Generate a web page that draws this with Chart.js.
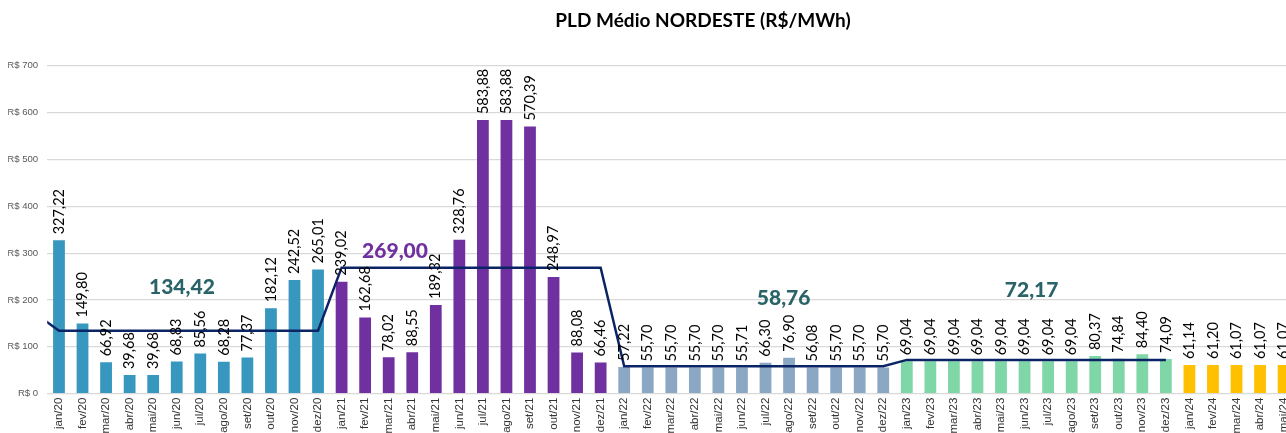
<!DOCTYPE html>
<html>
<head>
<meta charset="utf-8">
<script src="https://cdn.jsdelivr.net/npm/chart.js@4.4.0/dist/chart.umd.min.js"></script>
<style>
  html, body { margin: 0; padding: 0; background: #fff; }
  #quadro { width: 1286px; height: 433px; overflow: hidden; position: relative; }
  #grafico { position: absolute; left: 0; top: 0; }
</style>
</head>
<body>
<div id="quadro">
  <canvas id="grafico" width="1306" height="446"></canvas>
</div>
<script>
// meses exibidos no eixo
var meses = [
  "jan/20", "fev/20", "mar/20", "abr/20", "mai/20", "jun/20", "jul/20", "ago/20", "set/20", "out/20", "nov/20", "dez/20",
  "jan/21", "fev/21", "mar/21", "abr/21", "mai/21", "jun/21", "jul/21", "ago/21", "set/21", "out/21", "nov/21", "dez/21",
  "jan/22", "fev/22", "mar/22", "abr/22", "mai/22", "jun/22", "jul/22", "ago/22", "set/22", "out/22", "nov/22", "dez/22",
  "jan/23", "fev/23", "mar/23", "abr/23", "mai/23", "jun/23", "jul/23", "ago/23", "set/23", "out/23", "nov/23", "dez/23",
  "jan/24", "fev/24", "mar/24", "abr/24", "mai/24"
];

// PLD medio mensal (R$/MWh)
var pldMensal = [
  327.22, 149.80, 66.92, 39.68, 39.68, 68.83, 85.56, 68.28, 77.37, 182.12, 242.52, 265.01,
  239.02, 162.68, 78.02, 88.55, 189.32, 328.76, 583.88, 583.88, 570.39, 248.97, 88.08, 66.46,
  57.22, 55.70, 55.70, 55.70, 55.70, 55.71, 66.30, 76.90, 56.08, 55.70, 55.70, 55.70,
  69.04, 69.04, 69.04, 69.04, 69.04, 69.04, 69.04, 69.04, 80.37, 74.84, 84.40, 74.09,
  61.14, 61.20, 61.07, 61.07, 61.07
];

// media anual (linha); primeiro valor = dez/19, fora da area visivel
var mediaAnual = [
  171,
  134.42, 134.42, 134.42, 134.42, 134.42, 134.42, 134.42, 134.42, 134.42, 134.42, 134.42, 134.42,
  269.00, 269.00, 269.00, 269.00, 269.00, 269.00, 269.00, 269.00, 269.00, 269.00, 269.00, 269.00,
  58.76, 58.76, 58.76, 58.76, 58.76, 58.76, 58.76, 58.76, 58.76, 58.76, 58.76, 58.76,
  72.17, 72.17, 72.17, 72.17, 72.17, 72.17, 72.17, 72.17, 72.17, 72.17, 72.17, 72.17,
  null, null, null, null, null
];

var ticksY = [0, 100, 200, 300, 400, 500, 600, 700];

var rotulosMedia = ["134,42", "269,00", "58,76", "72,17"];
var posicaoMedia = [[5.22, 228], [14.27, 305], [30.77, 204], [41.3, 220]];
var corMedia = ["#2b6468", "#7030a0", "#2b6468", "#2b6468"];

var coresAno = { "20": "#3797bf", "21": "#7030a0", "22": "#8aa8c3", "23": "#7fd6a6", "24": "#ffc000" };

function formatar(v) {
  return v.toFixed(2).replace(".", ",");
}

// titulo centrado como no original
var titulo = {
  id: "titulo",
  afterDraw: function (chart) {
    var ctx = chart.ctx;
    ctx.save();
    ctx.font = "bold 19px Lato";
    ctx.fillStyle = "#000";
    ctx.textAlign = "center";
    ctx.textBaseline = "middle";
    ctx.fillText("PLD Médio NORDESTE (R$/MWh)", 703, 21);
    ctx.restore();
  }
};

// rotulos verticais sobre as barras
var rotulosBarras = {
  id: "rotulosBarras",
  afterDatasetsDraw: function (chart) {
    var ctx = chart.ctx;
    var meta = chart.getDatasetMeta(0);
    ctx.save();
    ctx.font = "14.5px Lato";
    ctx.fillStyle = "#000";
    ctx.textAlign = "left";
    ctx.textBaseline = "middle";
    meta.data.forEach(function (barra, i) {
      var v = chart.data.datasets[0].data[i];
      if (v === null || v === undefined) return;
      ctx.save();
      ctx.translate(barra.x, barra.y - 6);
      ctx.rotate(-Math.PI / 2);
      ctx.fillText(formatar(v), 0, 0);
      ctx.restore();
    });

    // medias anuais
    var x = chart.scales.x;
    var y = chart.scales.y;
    ctx.font = "900 21px Lato";
    ctx.textAlign = "center";
    rotulosMedia.forEach(function (t, i) {
      ctx.fillStyle = corMedia[i];
      ctx.fillText(t, x.getPixelForValue(posicaoMedia[i][0] + 1), y.getPixelForValue(posicaoMedia[i][1]));
    });
    ctx.restore();
  }
};

var ctx = document.getElementById("grafico").getContext("2d");

new Chart(ctx, {
  data: {
    labels: ["dez/19"].concat(meses),
    datasets: [
      {
        type: "bar",
        label: "PLD",
        data: [null].concat(pldMensal),
        backgroundColor: function (c) {
          var rot = c.chart.data.labels[c.dataIndex] || "";
          return coresAno[rot.slice(-2)] || "#3797bf";
        },
        borderWidth: 0,
        categoryPercentage: 0.5,
        barPercentage: 1,
        order: 2
      },
      {
        type: "line",
        label: "Média",
        data: mediaAnual,
        borderColor: "#0b2466",
        borderWidth: 2.5,
        pointRadius: 0,
        tension: 0,
        fill: false,
        order: 1
      }
    ]
  },
  options: {
    responsive: false,
    animation: false,
    layout: { padding: { left: 8.2, right: 10.6, top: 65.7, bottom: 2.3 } },
    plugins: {
      legend: { display: false },
      title: { display: false },
      tooltip: { enabled: false }
    },
    scales: {
      x: {
        min: "jan/20",
        offset: true,
        grid: { display: false, drawTicks: false },
        border: { display: false },
        ticks: {
          autoSkip: false,
          maxRotation: 90,
          minRotation: 90,
          padding: 4,
          color: "#333333",
          font: { family: "Liberation Sans", size: 11.5 }
        },
        afterFit: function (s) { s.height = 50; }
      },
      y: {
        min: 0,
        max: 700,
        afterBuildTicks: function (s) {
          s.ticks = ticksY.map(function (v) { return { value: v }; });
        },
        grid: { color: "#d9d9d9", lineWidth: 1.2, drawTicks: false },
        border: { display: false },
        ticks: {
          padding: 9,
          color: "#595959",
          font: { family: "Liberation Sans", size: 9.6 },
          callback: function (v) { return "R$ " + v; }
        },
        afterFit: function (s) { s.width = 39; }
      }
    }
  },
  plugins: [titulo, rotulosBarras]
});
</script>
</body>
</html>
